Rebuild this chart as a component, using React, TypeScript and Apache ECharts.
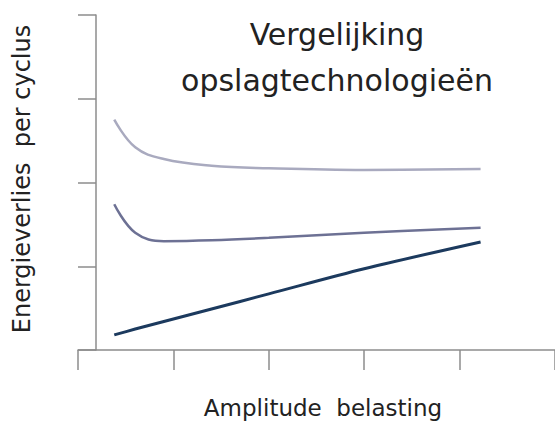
import React, { useEffect, useRef } from "react";
import * as echarts from "echarts";

const xValues = [0.38, 0.6, 0.9, 1.4, 2.0, 3.0, 4.22];
const seriesTop = [2.75, 2.42, 2.28, 2.2, 2.17, 2.15, 2.16];
const seriesMid = [1.74, 1.4, 1.3, 1.31, 1.34, 1.4, 1.46];
const seriesLow = [0.18, 0.25, 0.34, 0.49, 0.67, 0.97, 1.29];
const titleLines = ["Vergelijking", "opslagtechnologieën"];
const xName = "Amplitude  belasting";
const yName = "Energieverlies  per cyclus";

const pairs = (ys: number[]) => xValues.map((x, i) => [x, ys[i]]);

export default function App() {
  const ref = useRef<HTMLDivElement>(null);
  useEffect(() => {
    if (!ref.current) return;
    const chart = echarts.init(ref.current, null, { renderer: "svg" });
    const axisColor = "#8c8c8c";
    const font = "DejaVu Sans";
    chart.setOption({
      animation: false,
      backgroundColor: "#ffffff",
      grid: { left: 78, top: 15, width: 480, height: 335 },
      xAxis: {
        type: "value",
        min: 0,
        max: 5,
        interval: 1,
        axisLine: { lineStyle: { color: axisColor, width: 1.5 } },
        axisTick: { show: true, length: 20, lineStyle: { color: axisColor, width: 1.5 } },
        axisLabel: { show: false },
        splitLine: { show: false },
      },
      yAxis: {
        type: "value",
        min: 0,
        max: 4,
        interval: 1,
        offset: -18,
        axisLine: { show: true, onZero: false, lineStyle: { color: axisColor, width: 1.5 } },
        axisTick: { show: true, length: 18, lineStyle: { color: axisColor, width: 1.5 } },
        axisLabel: { show: false },
        splitLine: { show: false },
      },
      graphic: [
        {
          type: "text",
          x: 337,
          y: 34,
          style: {
            text: titleLines[0],
            textAlign: "center",
            textVerticalAlign: "middle",
            fontFamily: font,
            fontSize: 30,
            fill: "#222222",
          },
        },
        {
          type: "text",
          x: 337,
          y: 80,
          style: {
            text: titleLines[1],
            textAlign: "center",
            textVerticalAlign: "middle",
            fontFamily: font,
            fontSize: 30,
            fill: "#222222",
          },
        },
        {
          type: "text",
          x: 323,
          y: 408,
          style: {
            text: xName,
            textAlign: "center",
            textVerticalAlign: "middle",
            fontFamily: font,
            fontSize: 23,
            fill: "#222222",
          },
        },
        {
          type: "text",
          x: 22,
          y: 179,
          rotation: Math.PI / 2,
          style: {
            text: yName,
            textAlign: "center",
            textVerticalAlign: "middle",
            fontFamily: font,
            fontSize: 24,
            fill: "#222222",
          },
        },
      ],
      series: [
        {
          type: "line",
          data: pairs(seriesTop),
          smooth: 0.4,
          showSymbol: false,
          lineStyle: { color: "#a9aabf", width: 2.5 },
        },
        {
          type: "line",
          data: pairs(seriesMid),
          smooth: 0.4,
          showSymbol: false,
          lineStyle: { color: "#6d7194", width: 2.5 },
        },
        {
          type: "line",
          data: pairs(seriesLow),
          smooth: 0.3,
          showSymbol: false,
          lineStyle: { color: "#1c3a5e", width: 3 },
        },
      ],
    });
    return () => chart.dispose();
  }, []);
  return <div ref={ref} style={{ width: 555, height: 422, position: "absolute", left: 0, top: 0 }} />;
}
